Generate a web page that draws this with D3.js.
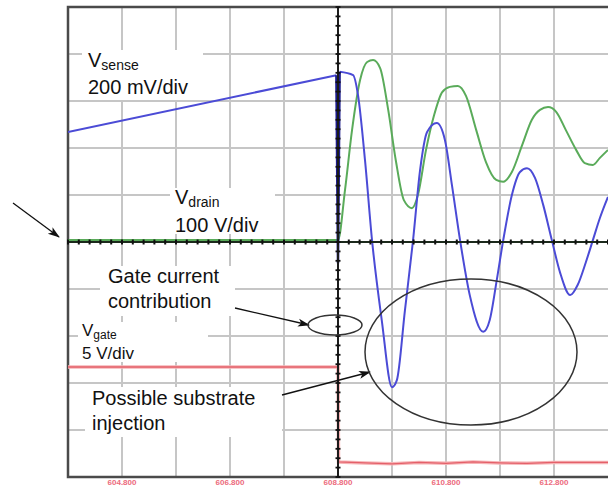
<!DOCTYPE html>
<html>
<head>
<meta charset="utf-8">
<script src="https://cdn.jsdelivr.net/npm/d3@7"></script>
<style>
  body { margin: 0; background: #fff; }
  svg { display: block; }
  .note { font-family: "Liberation Sans", Arial, sans-serif; fill: #111; }
</style>
</head>
<body>
<script>
// Scope screen: 10 x 10 divisions, values in divisions
const timeLabels = ["604.800", "606.800", "608.800", "610.800", "612.800"];
const timeLabelDivs = [-4, -2, 0, 2, 4];

// V_sense (blue), [time div, value div]
// ramp before the trigger
const vsenseRamp = [[-5.00, 2.34], [-0.03, 3.55]];
// the fast edge at the trigger point
const vsenseEdge = [[-0.03, 3.55], [0.0, -0.45], [0.03, 3.62]];
// ringing after the trigger
const vsense = [
  [0.03, 3.62], [0.28, 3.55],
  [0.37, 3.13], [0.50, 1.74], [0.63, 0.04], [0.81, -1.66], [1.00, -3.09],
  [1.09, -2.94], [1.24, -1.45], [1.39, 0.04], [1.52, 1.53], [1.65, 2.34],
  [1.83, 2.53], [1.98, 2.17], [2.11, 1.21], [2.26, 0.04], [2.44, -1.13],
  [2.69, -1.91], [2.81, -1.66], [2.94, -0.81], [3.06, 0.04], [3.22, 1.00],
  [3.37, 1.49], [3.50, 1.57], [3.65, 1.36], [3.80, 0.79], [3.96, 0.04],
  [4.11, -0.64], [4.30, -1.13], [4.44, -0.91], [4.59, -0.43], [4.72, 0.04],
  [4.85, 0.51], [5.00, 0.96]
];

// V_drain (green)
const vdrain = [
  [-5.00, 0.04], [0.00, 0.04], [0.13, 1.11], [0.26, 2.38], [0.41, 3.45],
  [0.54, 3.83], [0.65, 3.87], [0.78, 3.70], [0.93, 2.81], [1.07, 1.74],
  [1.22, 0.89], [1.37, 0.72], [1.48, 1.00], [1.63, 1.96], [1.78, 2.70],
  [1.93, 3.19], [2.07, 3.30], [2.22, 3.32], [2.37, 3.11], [2.56, 2.38],
  [2.74, 1.70], [2.93, 1.32], [3.06, 1.28], [3.22, 1.49], [3.41, 2.06],
  [3.59, 2.60], [3.74, 2.81], [3.89, 2.87], [4.04, 2.77], [4.22, 2.38],
  [4.41, 1.96], [4.57, 1.68], [4.72, 1.64], [4.85, 1.79], [5.00, 1.96]
];

// V_gate (red)
const vgate = [
  [-5.00, -2.66], [0.00, -2.66], [0.01, -4.68], [0.50, -4.70], [1.00, -4.72],
  [1.50, -4.69], [2.00, -4.71], [2.50, -4.68], [3.00, -4.70], [3.50, -4.71],
  [4.00, -4.69], [5.00, -4.69]
];

const W = 608, H = 487;
const x = d3.scaleLinear().domain([-5, 5]).range([68, 608]);
const y = d3.scaleLinear().domain([-5, 5]).range([477, 7]);

let svg = d3.select("body").append("svg")
    .attr("width", W)
    .attr("height", H);

let defs = svg.append("defs");
defs.append("clipPath").attr("id", "plot")
  .append("rect")
    .attr("x", x(-5)).attr("y", y(5))
    .attr("width", x(5) - x(-5)).attr("height", y(-5) - y(5));
defs.append("marker")
    .attr("id", "arrow")
    .attr("viewBox", "0 0 12 10")
    .attr("refX", 11).attr("refY", 5)
    .attr("markerWidth", 12).attr("markerHeight", 10)
    .attr("markerUnits", "userSpaceOnUse")
    .attr("orient", "auto")
  .append("path")
    .attr("d", "M0,1 L12,5 L0,9 L3,5 Z")
    .attr("fill", "#111");

// Grid
const divs = d3.range(-4, 5);
let grid = svg.append("g");
divs.forEach((d) => {
  grid.append("line")
    .attr("x1", x(d)).attr("x2", x(d))
    .attr("y1", y(5)).attr("y2", y(-5))
    .attr("stroke", "#c6c6c6").attr("stroke-width", 2);
  grid.append("line")
    .attr("x1", x(-5)).attr("x2", x(5))
    .attr("y1", y(d)).attr("y2", y(d))
    .attr("stroke", "#c6c6c6").attr("stroke-width", 2);
});

// Border
svg.append("rect")
    .attr("x", x(-5)).attr("y", y(5))
    .attr("width", x(5) - x(-5) + 4).attr("height", y(-5) - y(5))
    .attr("fill", "none")
    .attr("stroke", "#4a4a4a")
    .attr("stroke-width", 2.5);

// Traces
let traces = svg.append("g").attr("clip-path", "url(#plot)");
const line = d3.line()
    .x((d) => x(d[0]))
    .y((d) => y(d[1]))
    .curve(d3.curveMonotoneX);
const straight = d3.line()
    .x((d) => x(d[0]))
    .y((d) => y(d[1]));

traces.append("path").datum(vdrain)
    .attr("d", line).attr("fill", "none")
    .attr("stroke", "#5aab5a").attr("stroke-width", 2);

// center cross with minor ticks
let axes = svg.append("g");
axes.append("line")
    .attr("x1", x(-5)).attr("x2", x(5))
    .attr("y1", y(0)).attr("y2", y(0))
    .attr("stroke", "#1c2a1c").attr("stroke-width", 2.2);
axes.append("line")
    .attr("x1", x(0)).attr("x2", x(0))
    .attr("y1", y(5)).attr("y2", y(-5))
    .attr("stroke", "#1c1c1c").attr("stroke-width", 2);
const minor = d3.range(-5, 5.001, 0.2);
minor.forEach((m) => {
  axes.append("line")
    .attr("x1", x(m)).attr("x2", x(m))
    .attr("y1", y(0) - 2.5).attr("y2", y(0) + 2.5)
    .attr("stroke", "#111").attr("stroke-width", 2);
  axes.append("line")
    .attr("x1", x(0) - 2.5).attr("x2", x(0) + 2.5)
    .attr("y1", y(m)).attr("y2", y(m))
    .attr("stroke", "#111").attr("stroke-width", 1.8);
});

traces.append("path").datum(vgate)
    .attr("d", straight).attr("fill", "none")
    .attr("stroke", "#f6b4b6").attr("stroke-width", 3.5);
traces.append("path").datum(vgate)
    .attr("d", straight).attr("fill", "none")
    .attr("stroke", "#e4606a").attr("stroke-width", 1.3);

traces.append("path").datum(vsenseRamp)
    .attr("d", straight).attr("fill", "none")
    .attr("stroke", "#4b4bd6").attr("stroke-width", 2);
traces.append("path").datum(vsense)
    .attr("d", line).attr("fill", "none")
    .attr("stroke", "#4b4bd6").attr("stroke-width", 2);
traces.append("path").datum(vsenseEdge)
    .attr("d", straight).attr("fill", "none")
    .attr("stroke", "#1b1b8c").attr("stroke-width", 2.5);

// Time labels under the screen
svg.append("g").selectAll("text")
  .data(timeLabelDivs)
  .join("text")
    .attr("x", (d) => x(d))
    .attr("y", 485)
    .attr("text-anchor", "middle")
    .attr("font-family", "Liberation Sans, Arial, sans-serif")
    .attr("font-size", 8)
    .attr("font-weight", "bold")
    .attr("fill", "#ec6a7c")
    .text((d, i) => timeLabels[i]);

// Annotations
function box(x0, y0, w, h) {
  svg.append("rect")
    .attr("x", x0).attr("y", y0).attr("width", w).attr("height", h)
    .attr("fill", "#fff");
}
function label(tx, ty, main, sub, size, subSize) {
  let t = svg.append("text").attr("class", "note")
    .attr("x", tx).attr("y", ty).attr("font-size", size);
  t.append("tspan").text(main);
  if (sub) {
    t.append("tspan").attr("dy", 3).attr("font-size", subSize).text(sub);
  }
}

box(82, 50, 121, 50);
label(88, 67, "V", "sense", 20, 14);
label(88, 93.5, "200 mV/div", null, 20);

box(170, 188, 105, 46);
label(175, 204, "V", "drain", 20, 14);
label(175, 231.5, "100 V/div", null, 20);

box(100, 266, 135, 50);
label(108, 283, "Gate current", null, 20);
label(108, 308, "contribution", null, 20);

box(78, 322, 130, 40);
label(82, 336, "V", "gate", 17, 12);
label(82, 358.5, "5 V/div", null, 17);

box(85, 387, 197, 50);
label(92, 405, "Possible substrate", null, 20);
label(92, 430, "injection", null, 20);

// arrows
const arrows = [
  [[13, 203], [59, 237]],
  [[235, 308], [309, 325]],
  [[282, 395], [370, 372]]
];
arrows.forEach((a) => {
  svg.append("line")
    .attr("x1", a[0][0]).attr("y1", a[0][1])
    .attr("x2", a[1][0]).attr("y2", a[1][1])
    .attr("stroke", "#111").attr("stroke-width", 1.3)
    .attr("marker-end", "url(#arrow)");
});

// circled regions
svg.append("ellipse")
    .attr("cx", 335).attr("cy", 325).attr("rx", 27).attr("ry", 10)
    .attr("fill", "none").attr("stroke", "#333").attr("stroke-width", 1.5);
svg.append("ellipse")
    .attr("cx", 471).attr("cy", 352).attr("rx", 106).attr("ry", 73)
    .attr("fill", "none").attr("stroke", "#333").attr("stroke-width", 1.5);
</script>
</body>
</html>
